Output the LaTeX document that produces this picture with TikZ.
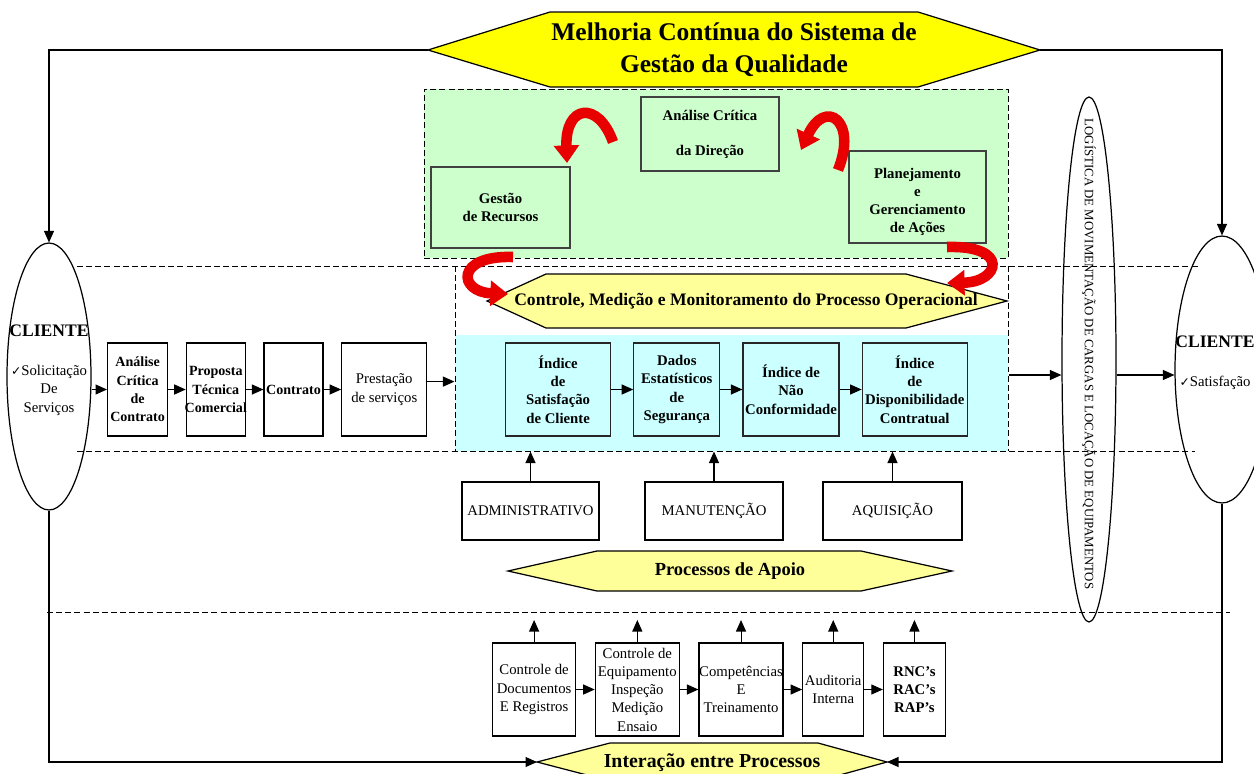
\documentclass[tikz,border=0pt]{standalone}
\usepackage{fontspec}
\setmainfont{Liberation Serif}
\newfontfamily\symbolfont{DejaVu Sans}
\usepackage{tikz}
\usetikzlibrary{positioning, chains, fit}
\usetikzlibrary{shapes.geometric}
\usetikzlibrary{arrows.meta}
\tikzset{>={Triangle[width=2mm,length=2.3mm]}}
\definecolor{amarelo}{HTML}{FFFF00}
\definecolor{amareloclaro}{HTML}{FFFF99}
\definecolor{verdeclaro}{HTML}{CCFFCC}
\definecolor{cianoclaro}{HTML}{CCFFFF}
\definecolor{vermelho}{HTML}{E80000}
\newcommand{\txtbox}{\fontsize{8.4}{10.4}\selectfont}
\newcommand{\checkmk}{{\symbolfont\fontsize{7}{8}\selectfont ✓}}

\begin{document}
\begin{tikzpicture}[
    x=0.02cm, y=-0.02cm,
    line width=0.6pt,
    box/.style = {draw, line width=0.7pt, align=center, inner sep=0.5pt,
        minimum height=1.86cm, font=\txtbox},
    greenbox/.style = {draw=black!75, line width=0.7pt, fill=verdeclaro,
        align=center, font=\txtbox\bfseries},
    cyanbox/.style = {box, draw=black!85, fill=cianoclaro, font=\txtbox\bfseries},
    apoio/.style = {box, minimum height=1.16cm},
    cliente/.style = {draw, ellipse, line width=0.7pt, inner sep=0pt},
    hexa/.style = {draw, line width=0.7pt, fill=amareloclaro},
    divider/.style = {line width=0.5pt, dash pattern=on 3.4pt off 1.8pt},
    ciclo/.style = {draw=vermelho, line width=6pt,
        -{Triangle[width=14pt,length=10pt]}}
  ]
  \useasboundingbox (0,0) rectangle (1254,774);

  % zonas de fundo
  \node[draw, divider, fill=verdeclaro, inner sep=0pt, fit={(424,89) (1008,258)}] (zonagestao) {};
  \node[fill=cianoclaro, inner sep=0pt, fit={(455,335) (1008,451)}] (zonaindices) {};
  \draw[divider] (77,266) -- (1200,266);
  \draw[divider] (77,451) -- (1195,451);
  \draw[divider] (47,612) -- (1230,612);
  \draw[divider] (455,266) -- (455,451);
  \draw[divider] (1008,266) -- (1008,451);

  % hexagonos
  \draw[hexa, fill=amarelo] (428,50) coordinate (titulo-w) -- (550,12) -- (918,12)
    -- (1040,50) coordinate (titulo-e) -- (918,87) -- (550,87) -- cycle;
  \node[font=\fontsize{14.5}{18}\selectfont\bfseries, align=center] (titulo) at (734,50)
    {Melhoria Contínua do Sistema de\\Gestão da Qualidade};
  \draw[hexa] (487,301) -- (546,274) -- (906,274) -- (1007,301) -- (906,328) -- (546,328) -- cycle;
  \node[font=\fontsize{10}{12}\selectfont\bfseries] (controle) at (746,301)
    {Controle, Medição e Monitoramento do Processo Operacional};
  \draw[hexa] (508,571) -- (597,551) -- (861,551) -- (952,571) -- (861,591) -- (597,591) -- cycle;
  \node[font=\fontsize{10.5}{12}\selectfont\bfseries] (processos) at (730,571) {Processos de Apoio};
  \draw[hexa] (537,762) coordinate (interacao-w) -- (610,743) -- (818,743)
    -- (887,762) coordinate (interacao-e) -- (818,781) -- (610,781) -- cycle;
  \node[font=\fontsize{11.3}{13}\selectfont\bfseries] (interacao) at (712,763) {Interação entre Processos};

  % gestao
  \node[greenbox, minimum width=2.76cm, minimum height=1.48cm] (direcao) at (710,134)
    {Análise Crítica\\[9.5pt]da Direção};
  \node[greenbox, minimum width=2.78cm, minimum height=1.62cm] (recursos) at (500.5,207.5)
    {Gestão\\de Recursos};
  \node[greenbox, minimum width=2.74cm, minimum height=1.84cm] (planejamento) at (917.5,197)
    {\mbox{}\\[1pt]Planejamento\\e\\Gerenciamento\\de Ações};

  \draw[ciclo] (613,142) .. controls (598,100) and (565,105) .. (567,163);
  \draw[ciclo] (838,170) .. controls (858,120) and (825,98) .. (801,150);
  \draw[ciclo] (513,257) .. controls (455,255) and (458,292) .. (508,294);
  \draw[ciclo] (947,247) .. controls (1010,245) and (1000,282) .. (947,283);

  % clientes e logistica
  \node[cliente, minimum width=1.68cm, minimum height=5.34cm] (clienteE) at (49,376.5) {};
  \node[align=center, font=\txtbox] (clienteE-txt) at (49,370)
    {{\fontsize{10}{12}\selectfont\bfseries CLIENTE}\\[12pt]\checkmk Solicitação\\De\\Serviços};
  \node[cliente, minimum width=1.88cm, minimum height=5.34cm] (clienteD) at (1222,369.5) {};
  \node[align=center, font=\txtbox] (clienteD-txt) at (1215,363)
    {{\fontsize{10}{12}\selectfont\bfseries CLIENTE}\\[12pt]\checkmk Satisfação};
  \node[cliente, minimum width=1.08cm, minimum height=10.5cm] (logistica) at (1089,359.5) {};
  \node[rotate=-90, font=\fontsize{7.3}{9}\selectfont] (logistica-txt) at (1089,354)
    {LOGÍSTICA DE MOVIMENTAÇÃO DE CARGAS E LOCAÇÃO DE EQUIPAMENTOS};

  % fluxo do contrato
  \begin{scope}[start chain=contrato going right, node distance=0.35cm]
    \node[box, on chain, minimum width=1.2cm, font=\fontsize{8}{10.4}\selectfont\bfseries, anchor=west] (analise) at (107,389.5)
      {Análise\\Crítica\\de\\Contrato};
    \node[box, on chain, minimum width=1.18cm, font=\fontsize{8}{10.4}\selectfont\bfseries] (proposta)
      {Proposta\\Técnica\\\makebox[0pt]{Comercial}};
    \node[box, on chain, minimum width=1.18cm, font=\fontsize{8}{10.4}\selectfont\bfseries] (contrato) {Contrato};
    \node[box, on chain, minimum width=1.7cm] (prestacao) {Prestação\\de serviços};
  \end{scope}

  % indices
  \begin{scope}[start chain=indices going right, node distance=0.44cm]
    \node[cyanbox, on chain, minimum width=2.1cm, anchor=west] (satisfacao) at (505,389.5)
      {Índice\\de\\Satisfação\\de Cliente};
    \node[cyanbox, on chain, minimum width=1.72cm] (estatisticos) {Dados\\Estatísticos\\de\\Segurança};
    \node[cyanbox, on chain, minimum width=1.92cm] (naoconf) {Índice de\\Não\\Conformidade};
    \node[cyanbox, on chain, minimum width=2.1cm] (disponib) {Índice\\de\\Disponibilidade\\Contratual};
  \end{scope}

  % apoio
  \node[apoio, minimum width=2.74cm] (administrativo) at (530.5,511) {ADMINISTRATIVO};
  \node[apoio, minimum width=2.76cm] (manutencao) at (714,511) {MANUTENÇÃO};
  \node[apoio, minimum width=2.78cm] (aquisicao) at (892.5,511) {AQUISIÇÃO};

  \begin{scope}[start chain=documentacao going right, node distance=0.37cm]
    \node[box, on chain, minimum width=1.66cm, anchor=west] (documentos) at (492,689.5)
      {Controle de\\Documentos\\E Registros};
    \node[box, on chain, minimum width=1.68cm] (equipamento)
      {Controle de\\Equipamento\\Inspeção\\Medição\\Ensaio};
    \node[box, on chain, minimum width=1.68cm] (competencias) {\makebox[0pt]{Competências}\\E\\Treinamento};
    \node[box, on chain, minimum width=1.22cm] (auditoria) {Auditoria\\Interna};
    \node[box, on chain, minimum width=1.24cm, font=\txtbox\bfseries] (rnc) {RNC’s\\RAC’s\\RAP’s};
  \end{scope}

  % conexoes
  \draw[->] (clienteE.east |- analise.west) -- (analise.west);
  \foreach \a/\b in {analise/proposta, proposta/contrato, contrato/prestacao,
      satisfacao/estatisticos, estatisticos/naoconf, naoconf/disponib,
      documentos/equipamento, equipamento/competencias, competencias/auditoria, auditoria/rnc}
    \draw[->] (\a) -- (\b);
  \coordinate (saida) at ([yshift=4.5pt]prestacao.east);
  \draw[->] (saida) -- (saida -| zonaindices.west);

  \foreach \n in {administrativo, manutencao, aquisicao}
    \draw[->] (\n.north) -- (\n.north |- zonaindices.south);
  \coordinate (topo-apoio) at (0,620);
  \foreach \n in {documentos, equipamento, competencias, auditoria, rnc}
    \draw[->] (\n.north) -- (\n.north |- topo-apoio);

  \coordinate (nivel) at (0,375);
  \draw[->] (zonaindices.east |- nivel) -- (logistica.west |- nivel);
  \draw[->] (logistica.east |- nivel) -- (clienteD.west |- nivel);

  \draw[->] (titulo-w) -| (clienteE.north);
  \draw[->] (titulo-e) -| (clienteD.north);
  \draw[->] (clienteE.south) |- (interacao-w);
  \draw[->] (clienteD.south) |- (interacao-e);
\end{tikzpicture}
\end{document}
